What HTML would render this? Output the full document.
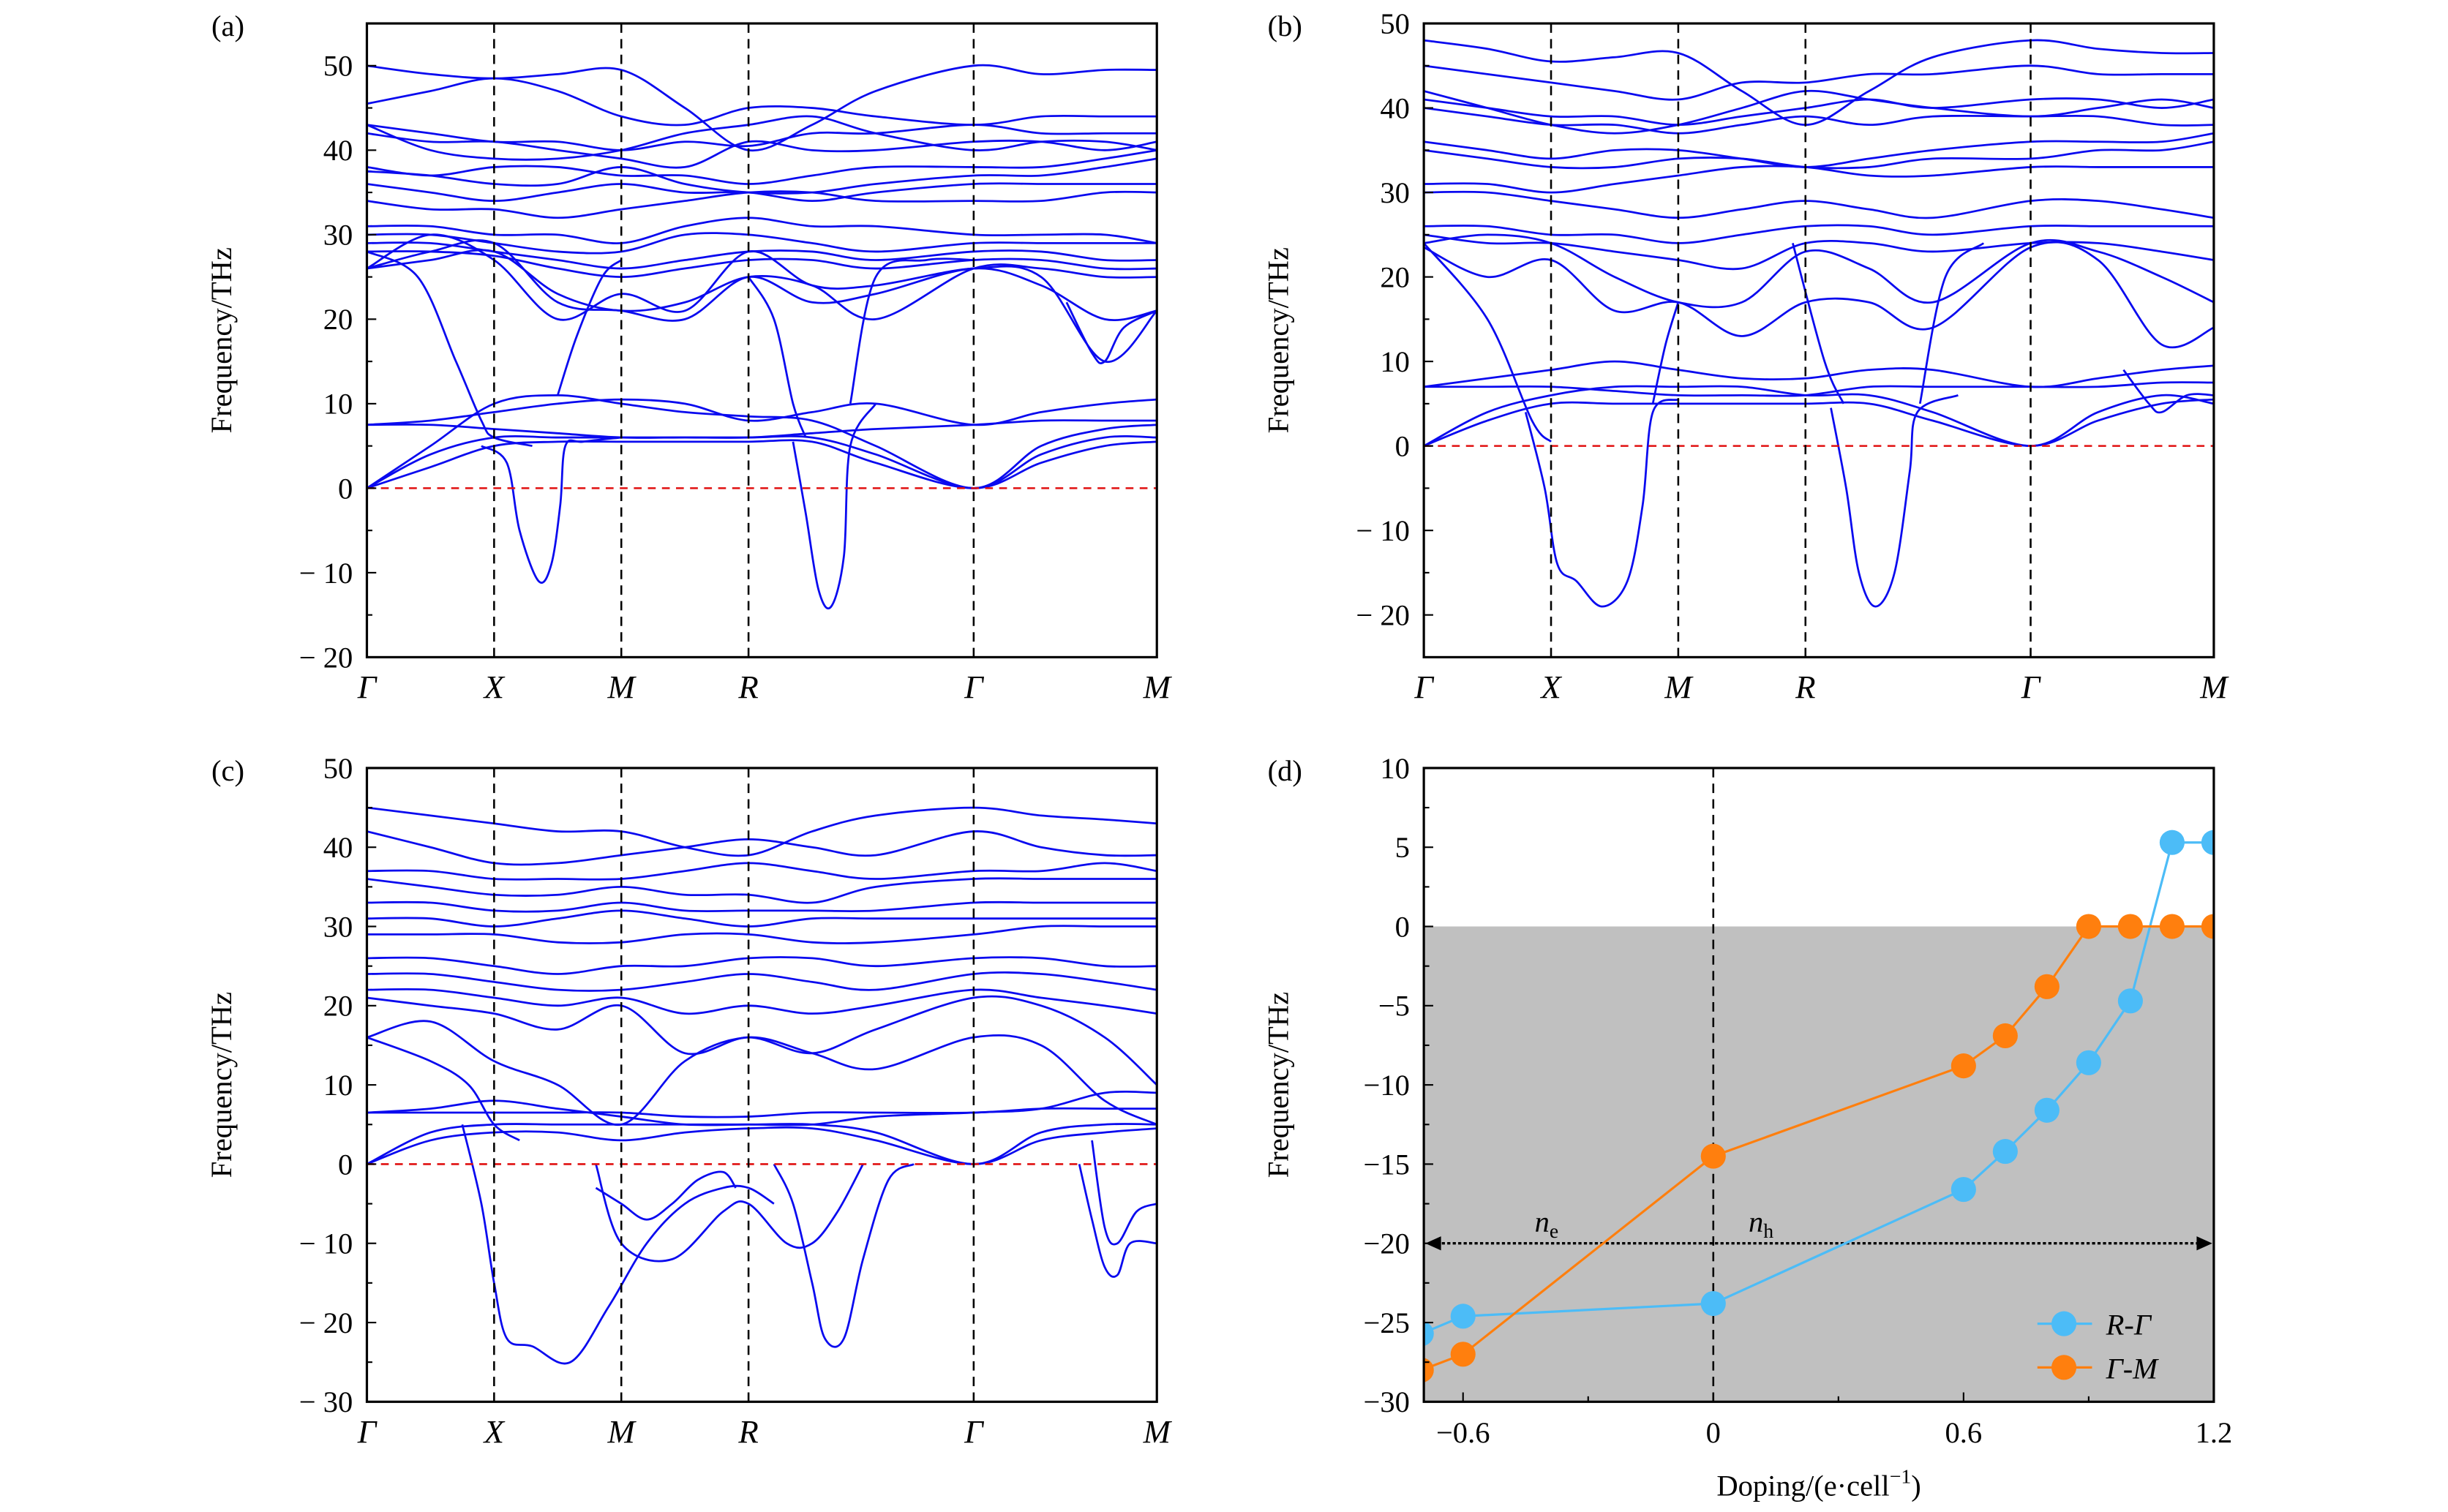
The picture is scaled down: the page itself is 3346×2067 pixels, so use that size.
<!DOCTYPE html>
<html><head><meta charset="utf-8"><style>
html,body{margin:0;padding:0;background:#fff;}
svg{display:block;font-family:"Liberation Serif",serif;}
</style></head><body>
<svg id="fig" width="3346" height="2067" viewBox="0 0 1568 968.6" xmlns="http://www.w3.org/2000/svg"></svg>
<script>
// ---------- data ----------
const kLabels = ["Γ","X","M","R","Γ","M"];
const kTicks = [0,1,2,3,4.77,6.21];
const kS = [0,0.5,1,1.5,2,2.5,3,3.5,4,4.77,5.3,5.8,6.21];

const bandsA = [
[50,49,48.5,49,49.5,45,40,43,47,50,49,49.5,49.5],
[45.5,47,48.5,47,44,43,45,45,44,43,44,44,44],
[43,42,41,41,40,41,40.5,42,42,43,42,42,42],
[42,41,41,40,39,38,41,40,40,41,41,40,41],
[43,40,39,39,40,42,43,44,42,40,41,41,40],
[38,37,38,38,37,37,36,37,38,38,38,39,40],
[37.5,37,36,36,38,36,35,35,36,37,37,38,39],
[36,35,34,35,36,35,35,34,35,36,36,36,36],
[34,33,33,32,33,34,35,35,34,34,34,35,35],
[31,31,30,30,29,31,32,31,31,30,30,30,29],
[30,30,29,28,28,30,30,29,28,29,29,29,29],
[29,29,28,27,26,27,28,28,27,28,28,27,27],
[28,28,27.5,26,25,26,27,27,26,27,27,26,26],
[26,27,28,23,21,22,25,24,20,26,26,25,25],
[26,28,29,22,21,20,25,22,23,26,24,20,21],
[26,30,27,20,23,21,28,24,24,26,25,15,21],
[7.5,8,9,10,10.5,10,8,9,10,7.5,9,10,10.5],
[7.5,7.5,7,6.5,6,6,6,6.5,7,7.5,8,8,8],
[0,4,6,6,6,6,6,6,4,0,4,6,6],
[0,2.5,5,5.5,5.5,5.5,5.5,5.5,3,0,3,5,5.5],
[0,5,10,11,10,9,8.5,8,5,0,5,7,7.5]
];
const extraA = [
[[0.9,5],[1.1,3],[1.2,-5],[1.35,-11],[1.45,-9],[1.52,-2],[1.56,5],[1.7,5.5],[2,6]],
[[3.35,5.5],[3.45,-3],[3.55,-12],[3.65,-14],[3.75,-8],[3.8,5],[4,10]],
[[0,28],[0.4,25],[0.7,15],[0.9,8],[1,6],[1.3,5]],
[[1.5,11],[1.65,18],[1.85,25],[2,27]],
[[3,25],[3.2,20],[3.35,10],[3.45,6]],
[[3.8,10],[4,25],[4.4,27],[4.77,27]],
[[5.5,22],[5.7,16],[5.8,15],[5.95,19],[6.21,21]]
];

const bandsB = [
[48,47,45.5,46,46.5,42,38,42,46,48,47,46.5,46.5],
[45,44,43,42,41,43,43,44,44,45,44,44,44],
[41,40,39,39,38,39,40,41,40,41,41,40,41],
[40,39,38,38,37,38,39,38,39,39,39,38,38],
[42,40,38,37,38,40,42,41,40,39,40,41,40],
[36,35,34,35,35,34,33,34,35,36,36,36,37],
[35,34,33,33,34,34,33,33,34,34,35,35,36],
[31,31,30,31,32,33,33,32,32,33,33,33,33],
[30,30,29,28,27,28,29,28,27,29,29,28,27],
[26,26,25,25,24,25,26,26,25,26,26,26,26],
[25,24,24,23,22,21,24,24,23,24,24,23,22],
[24,25,24,20,17,17,23,21,17,24,23,20,17],
[23.5,20,22,16,17,13,17,17,14,23.5,22,12,14],
[7,8,9,10,9,8,8,9,9,7,8,9,9.5],
[7,7,7,6.5,6,6,6,7,7,7,7,7.5,7.5],
[0,3,5,5,5,5,5,5,3,0,3,5,5.5],
[0,4,6,7,7,7,6,6,4,0,4,6,5]
];
const extraB = [
[[0.8,4],[0.95,-5],[1.05,-14],[1.2,-16],[1.4,-19],[1.6,-16],[1.72,-7],[1.8,4],[2,5.5]],
[[3.2,4.5],[3.32,-5],[3.42,-15],[3.55,-19],[3.7,-15],[3.82,-3],[3.88,4],[4.2,6]],
[[0,24],[0.5,15],[0.85,3],[1,0.5]],
[[1.8,5],[1.9,12],[2,17]],
[[2.9,24],[3.15,10],[3.3,5]],
[[3.9,5],[4.1,20],[4.4,24]],
[[5.5,9],[5.7,5],[5.8,4],[6,6],[6.21,6]]
];

const bandsC = [
[45,44,43,42,42,40,39,42,44,45,44,43.5,43],
[42,40,38,38,39,40,41,40,39,42,40,39,39],
[37,37,36,36,36,37,38,37,36,37,37,38,37],
[36,35,34,34,35,34,34,33,35,36,36,36,36],
[33,33,32,32,33,32,32,32,32,33,33,33,33],
[31,31,30,31,32,31,30,31,31,31,31,31,31],
[29,29,29,28,28,29,29,28,28,29,30,30,30],
[26,26,25,24,25,25,26,26,25,26,26,25,25],
[24,24,23,22,22,23,24,23,22,24,24,23,22],
[22,22,21,20,21,19,20,19,20,22,21,20,19],
[21,20,19,17,20,14,16,14,17,21,20,16,10],
[16,18,13,10,5,13,16,14,12,16,15,8,5],
[6.5,6.5,6.5,6.5,6.5,6,6,6.5,6.5,6.5,7,7,7],
[6.5,7,8,7,6,5,5,5,6,6.5,7,9,9],
[0,3,4,4,3,4,4.5,4.5,3,0,3,4,4.5],
[0,4,5,5,5,5,5,5,4,0,4,5,5]
];
const extraC = [
[[0.75,5],[0.9,-5],[1.0,-15],[1.1,-22],[1.3,-23],[1.6,-25],[1.9,-18],[2.2,-10],[2.5,-5],[2.8,-3],[3,-3],[3.2,-5]],
[[3.2,0],[3.35,-5],[3.5,-15],[3.6,-22],[3.75,-22],[3.9,-12],[4.1,-2],[4.3,0]],
[[1.8,0],[2,-10],[2.4,-12],[2.8,-6],[3,-5],[3.3,-10],[3.5,-10],[3.7,-6],[3.9,0]],
[[1.8,-3],[2,-5],[2.2,-7],[2.4,-5],[2.6,-2],[2.8,-1],[2.9,-3]],
[[5.6,0],[5.7,-7],[5.8,-13],[5.9,-14],[6,-10],[6.21,-10]],
[[5.7,3],[5.8,-8],[5.9,-10],[6.05,-6],[6.21,-5]],
[[0,16],[0.5,13],[0.8,10],[1,5],[1.2,3]]
];

const dopingX = [-0.7,-0.6,0,0.6,0.7,0.8,0.9,1.0,1.1,1.2];
const seriesRG = [-25.7,-24.6,-23.8,-16.6,-14.2,-11.6,-8.6,-4.7,5.3,5.3];
const seriesGM = [-28,-27,-14.5,-8.8,-6.9,-3.8,0,0,0,0];
const dTicksX = [-0.6,0,0.6,1.2];
const dTickLabelsX = ["−0.6","0","0.6","1.2"];
const dTicksY = [10,5,0,-5,-10,-15,-20,-25,-30];

// ---------- helpers ----------
const NS="http://www.w3.org/2000/svg";
const svg=document.getElementById('fig');
function el(tag,attrs,parent){const e=document.createElementNS(NS,tag);for(const k in attrs)e.setAttribute(k,attrs[k]);(parent||svg).appendChild(e);return e;}
function txt(s,x,y,attrs,parent){const t=el('text',Object.assign({x:x,y:y,'font-size':19,'text-anchor':'middle'},attrs||{}),parent);t.textContent=s;return t;}
function smoothPath(pts){
  let d="M"+pts[0][0].toFixed(2)+","+pts[0][1].toFixed(2);
  for(let i=0;i<pts.length-1;i++){
    const p0=pts[Math.max(0,i-1)],p1=pts[i],p2=pts[i+1],p3=pts[Math.min(pts.length-1,i+2)];
    const c1x=p1[0]+(p2[0]-p0[0])/6,c1y=p1[1]+(p2[1]-p0[1])/6;
    const c2x=p2[0]-(p3[0]-p1[0])/6,c2y=p2[1]-(p3[1]-p1[1])/6;
    d+="C"+c1x.toFixed(2)+","+c1y.toFixed(2)+" "+c2x.toFixed(2)+","+c2y.toFixed(2)+" "+p2[0].toFixed(2)+","+p2[1].toFixed(2);
  }
  return d;
}

function bandPanel(name,label,x0,x1,y0,y1,ymin,ymax,major,bands,extras){
  const g=el('g',{});
  
  
  const kmax=kTicks[kTicks.length-1];
  const X=k=>x0+(k/kmax)*(x1-x0);
  const Y=v=>y1-(v-ymin)/(ymax-ymin)*(y1-y0);
  const clip=el('clipPath',{id:'clip-'+name},g);
  el('rect',{x:x0,y:y0,width:x1-x0,height:y1-y0},clip);
  const bg=el('g',{'clip-path':'url(#clip-'+name+')'},g);
  bands.forEach((b,i)=>{
    const p=el('path',{d:smoothPath(b.map((v,j)=>[X(kS[j]),Y(v)])),fill:'none',stroke:'#0a0aef','stroke-width':1.3},bg);
    
    
  });
  extras.forEach(b=>{
    const p=el('path',{d:smoothPath(b.map(q=>[X(q[0]),Y(q[1])])),fill:'none',stroke:'#0a0aef','stroke-width':1.3},bg);
    
    
  });
  const z=el('line',{x1:x0,x2:x1,y1:Y(0),y2:Y(0),stroke:'#e01010','stroke-width':1.2,'stroke-dasharray':'5,4'},g);
  
  
  kTicks.forEach((k,i)=>{
    if(i>0&&i<kTicks.length-1){
      const l=el('line',{x1:X(k),x2:X(k),y1:y0,y2:y1,stroke:'#000','stroke-width':1.2,'stroke-dasharray':'6,4'},g);
      
      
    }
    const t=txt(kLabels[i],X(k),y1+26,{'font-style':'italic','font-size':21},g);
    
    
  });
  for(let v=Math.ceil(ymin/major)*major; v<=ymax; v+=major/2){
    const isMaj=(Math.round(v/major*2)%2===0);
    el('line',{x1:x0,x2:x0+(isMaj?6:3.5),y1:Y(v),y2:Y(v),stroke:'#000','stroke-width':1},g);
    if(isMaj){
      const t=txt(v<0?"− "+(-v):String(v),x0-9,Y(v)+6.5,{'text-anchor':'end'},g);
      
      
    }
  }
  const fr=el('rect',{x:x0,y:y0,width:x1-x0,height:y1-y0,fill:'none',stroke:'#000','stroke-width':1.5},g);
  
  
  const yt=txt("Frequency/THz",0,0,{transform:'translate('+(x0-87)+','+((y0+y1)/2)+') rotate(-90)'},g);
  
  
  const pl=txt(label,x0-89,y0+8,{},g);
  
  
}

bandPanel('panel-a','(a)',235,741,15,421,-20,55,10,bandsA,extraA);
bandPanel('panel-b','(b)',912,1418,15,421,-25,50,10,bandsB,extraB);
bandPanel('panel-c','(c)',235,741,492,898,-30,50,10,bandsC,extraC);

// ---------- panel d ----------
(function(){
  const x0=912,x1=1418,y0=492,y1=898,xmin=-0.694,xmax=1.2,ymin=-30,ymax=10;
  const X=v=>x0+(v-xmin)/(xmax-xmin)*(x1-x0);
  const Y=v=>y1-(v-ymin)/(ymax-ymin)*(y1-y0);
  const g=el('g',{});
  
  
  const clip=el('clipPath',{id:'clip-d'},g);
  el('rect',{x:x0,y:y0-20,width:x1-x0,height:y1-y0+40},clip);
  const sh=el('rect',{x:x0,y:Y(0),width:x1-x0,height:y1-Y(0),fill:'#c0c0c0'},g);
  
  
  const vl=el('line',{x1:X(0),x2:X(0),y1:y0,y2:y1,stroke:'#000','stroke-width':1.2,'stroke-dasharray':'6,4'},g);
  
  
  const ar=el('line',{x1:x0+8,x2:x1-8,y1:Y(-20),y2:Y(-20),stroke:'#000','stroke-width':1.6,'stroke-dasharray':'2,1.5'},g);
  
  
  el('polygon',{points:(x0+1)+','+Y(-20)+' '+(x0+11)+','+(Y(-20)-4.5)+' '+(x0+11)+','+(Y(-20)+4.5)},g);
  el('polygon',{points:(x1-1)+','+Y(-20)+' '+(x1-11)+','+(Y(-20)-4.5)+' '+(x1-11)+','+(Y(-20)+4.5)},g);
  const ne=el('text',{x:983,y:789,'font-size':19,'font-style':'italic'},g);
  ne.innerHTML='n<tspan font-size="13" font-style="normal" dy="4">e</tspan>';
  
  
  const nh=el('text',{x:1120,y:789,'font-size':19,'font-style':'italic'},g);
  nh.innerHTML='n<tspan font-size="13" font-style="normal" dy="4">h</tspan>';
  
  
  const sg=el('g',{'clip-path':'url(#clip-d)'},g);
  function series(vals,color,name){
    const pts=dopingX.map((x,i)=>X(x).toFixed(2)+','+Y(vals[i]).toFixed(2)).join(' ');
    const pl=el('polyline',{points:pts,fill:'none',stroke:color,'stroke-width':1.5},sg);
    
    
    dopingX.forEach((x,i)=>{
      const c=el('circle',{cx:X(x),cy:Y(vals[i]),r:8,fill:color},sg);
      
      
    });
  }
  series(seriesRG,'#4cbcf7','r-gamma');
  series(seriesGM,'#ff7f0e','gamma-m');
  const lg=el('g',{},g);
  
  
  [['R','Γ','#4cbcf7',848],['Γ','M','#ff7f0e',876]].forEach(e=>{
    el('line',{x1:1305,x2:1340,y1:e[3],y2:e[3],stroke:e[2],'stroke-width':1.5},lg);
    el('circle',{cx:1322,cy:e[3],r:8,fill:e[2]},lg);
    const t=el('text',{x:1349,y:e[3]+7,'font-size':19,'font-style':'italic'},lg);
    t.textContent=e[0]+'-'+e[1];
    
    
  });
  dTicksX.forEach((v,i)=>{
    el('line',{x1:X(v),x2:X(v),y1:y1,y2:y1-6,stroke:'#000'},g);
    const t=txt(dTickLabelsX[i],X(v),y1+26,{},g);
    
    
  });
  [-0.3,0.3,0.9].forEach(v=>el('line',{x1:X(v),x2:X(v),y1:y1,y2:y1-3.5,stroke:'#000'},g));
  dTicksY.forEach(v=>{
    el('line',{x1:x0,x2:x0+6,y1:Y(v),y2:Y(v),stroke:'#000'},g);
    if(v>-30) el('line',{x1:x0,x2:x0+3.5,y1:Y(v-2.5),y2:Y(v-2.5),stroke:'#000'},g);
    const t=txt(v<0?"−"+(-v):String(v),x0-9,Y(v)+6.5,{'text-anchor':'end'},g);
    
    
  });
  const fr=el('rect',{x:x0,y:y0,width:x1-x0,height:y1-y0,fill:'none',stroke:'#000','stroke-width':1.5},g);
  
  
  const yt=txt("Frequency/THz",0,0,{transform:'translate(825,'+((y0+y1)/2)+') rotate(-90)'},g);
  
  
  const xt=el('text',{x:1165,y:958,'font-size':19,'text-anchor':'middle'},g);
  xt.innerHTML='Doping/(e·cell<tspan font-size="13" dy="-8">−1</tspan><tspan dy="8">)</tspan>';
  
  
  const pl=txt('(d)',823,500,{},g);
  
  
})();
</script>
</body></html>
